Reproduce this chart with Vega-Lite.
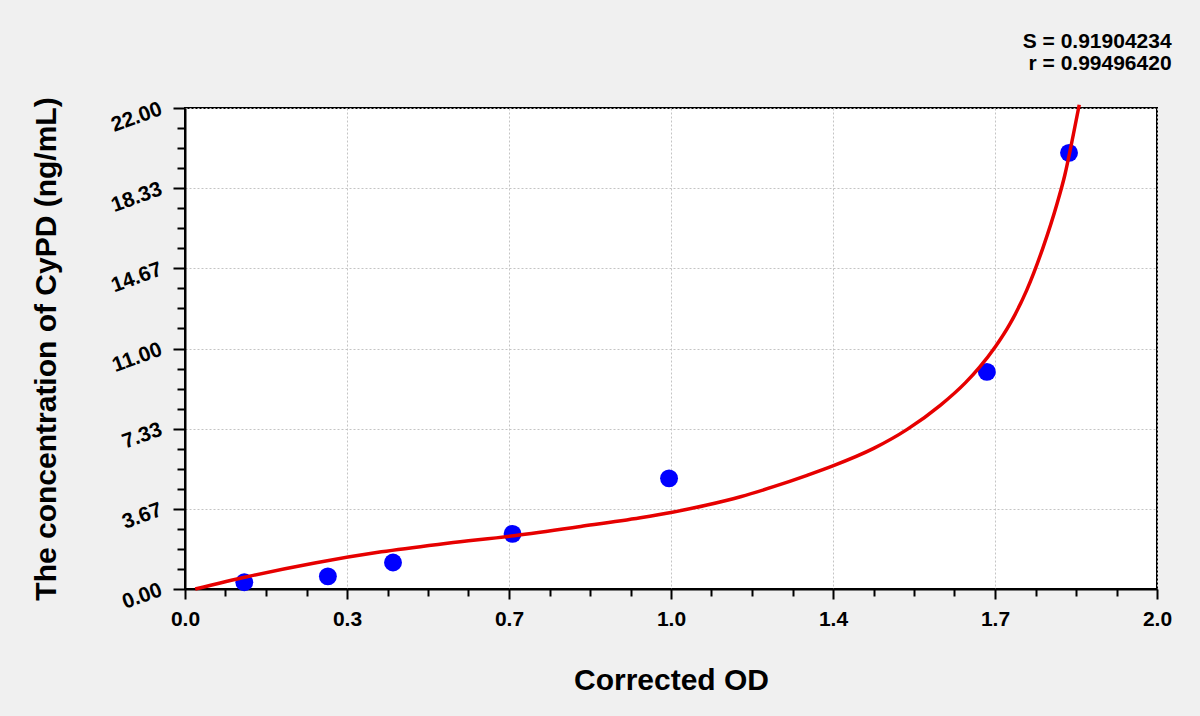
{
  "$schema": "https://vega.github.io/schema/vega-lite/v6.json",
  "width": 972,
  "height": 481,
  "autosize": "none",
  "padding": {"left": 185, "top": 108, "right": 43, "bottom": 127},
  "background": "#f0f0f0",
  "title": {
    "text": ["S = 0.91904234", "r = 0.99496420"],
    "anchor": "end",
    "font": "Liberation Sans",
    "fontSize": 21,
    "fontWeight": "bold",
    "color": "#000000",
    "lineHeight": 22,
    "offset": 23
  },
  "datasets": {
    "points": [
      {"od": 0.122, "conc": 0.31},
      {"od": 0.294, "conc": 0.58},
      {"od": 0.428, "conc": 1.21},
      {"od": 0.674, "conc": 2.52},
      {"od": 0.996, "conc": 5.06},
      {"od": 1.65, "conc": 9.93},
      {"od": 1.819, "conc": 19.95}
    ],
    "curve": [
      {"od": 0.021, "conc": 0.0},
      {"od": 0.13, "conc": 0.57},
      {"od": 0.267, "conc": 1.19},
      {"od": 0.404, "conc": 1.7},
      {"od": 0.54, "conc": 2.09},
      {"od": 0.677, "conc": 2.44},
      {"od": 0.814, "conc": 2.86},
      {"od": 0.937, "conc": 3.26},
      {"od": 1.0, "conc": 3.5},
      {"od": 1.074, "conc": 3.84},
      {"od": 1.143, "conc": 4.22},
      {"od": 1.211, "conc": 4.68},
      {"od": 1.28, "conc": 5.2},
      {"od": 1.333, "conc": 5.63},
      {"od": 1.417, "conc": 6.43},
      {"od": 1.486, "conc": 7.3},
      {"od": 1.554, "conc": 8.4},
      {"od": 1.606, "conc": 9.44},
      {"od": 1.635, "conc": 10.15},
      {"od": 1.667, "conc": 11.07},
      {"od": 1.698, "conc": 12.15},
      {"od": 1.732, "conc": 13.67},
      {"od": 1.766, "conc": 15.65},
      {"od": 1.794, "conc": 17.6},
      {"od": 1.81, "conc": 18.9},
      {"od": 1.828, "conc": 20.8},
      {"od": 1.84, "conc": 22.15}
    ]
  },
  "encoding": {
    "x": {
      "field": "od",
      "type": "quantitative",
      "scale": {"domain": [0, 2], "nice": false, "zero": false},
      "axis": {
        "title": "Corrected OD",
        "values": [0, 0.0833, 0.1667, 0.25, 0.3333, 0.4167, 0.5, 0.5833, 0.6667, 0.75, 0.8333, 0.9167, 1, 1.0833, 1.1667, 1.25, 1.3333, 1.4167, 1.5, 1.5833, 1.6667, 1.75, 1.8333, 1.9167, 2],
        "labelExpr": "abs(datum.value * 3 - round(datum.value * 3)) < 0.01 ? ['0.0', '0.3', '0.7', '1.0', '1.4', '1.7', '2.0'][round(datum.value * 3)] : ''",
        "tickSize": {"condition": {"test": "abs(datum.value * 3 - round(datum.value * 3)) < 0.01", "value": 10}, "value": 7},
        "gridOpacity": {"condition": {"test": "abs(datum.value * 3 - round(datum.value * 3)) < 0.01", "value": 1}, "value": 0},
        "labelFlush": false,
        "labelFontSize": 21,
        "labelPadding": 9,
        "titlePadding": 36
      }
    },
    "y": {
      "field": "conc",
      "type": "quantitative",
      "scale": {"domain": [0, 22], "nice": false},
      "axis": {
        "title": "The concentration of CyPD (ng/mL)",
        "values": [0, 0.9167, 1.8333, 2.75, 3.6667, 4.5833, 5.5, 6.4167, 7.3333, 8.25, 9.1667, 10.0833, 11, 11.9167, 12.8333, 13.75, 14.6667, 15.5833, 16.5, 17.4167, 18.3333, 19.25, 20.1667, 21.0833, 22],
        "labelExpr": "abs(datum.value / (22 / 6) - round(datum.value / (22 / 6))) < 0.01 ? format(datum.value, '.2f') : ''",
        "tickSize": {"condition": {"test": "abs(datum.value / (22 / 6) - round(datum.value / (22 / 6))) < 0.01", "value": 12}, "value": 8},
        "gridOpacity": {"condition": {"test": "abs(datum.value / (22 / 6) - round(datum.value / (22 / 6))) < 0.01", "value": 1}, "value": 0},
        "labelFlush": false,
        "labelAngle": -20,
        "labelAlign": "right",
        "labelBaseline": "middle",
        "labelFontSize": 21,
        "labelPadding": 12,
        "titlePadding": 46
      }
    }
  },
  "layer": [
    {
      "data": {"name": "points"},
      "mark": {"type": "point", "shape": "circle", "filled": true, "size": 320, "color": "#0000ff", "opacity": 1}
    },
    {
      "data": {"name": "curve"},
      "mark": {"type": "line", "color": "#e60000", "strokeWidth": 3.5, "interpolate": "monotone", "clip": false}
    }
  ],
  "config": {
    "view": {"fill": "#ffffff", "stroke": "#000000", "strokeWidth": 2},
    "axis": {
      "domainColor": "#000000",
      "domainWidth": 2,
      "tickColor": "#000000",
      "tickWidth": 2,
      "gridColor": "#c4c4c4",
      "gridDash": [2, 2],
      "gridWidth": 1,
      "labelFont": "Liberation Sans",
      "labelFontWeight": "bold",
      "labelColor": "#000000",
      "labelOverlap": false,
      "titleFont": "Liberation Sans",
      "titleFontSize": 30,
      "titleFontWeight": "bold",
      "titleColor": "#000000"
    }
  }
}
